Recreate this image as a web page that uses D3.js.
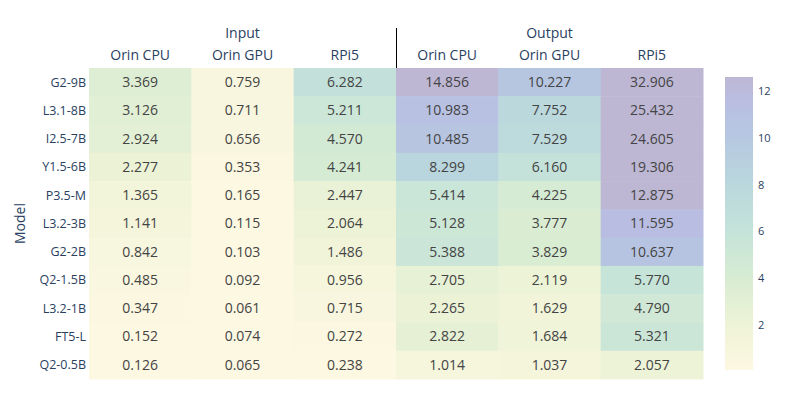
<!DOCTYPE html>
<html>
<head>
<meta charset="utf-8">
<script src="https://cdn.jsdelivr.net/npm/d3@7"></script>
<style>
  body { margin: 0; background: #fff; }
  text { font-family: "Open Sans", sans-serif; }
</style>
</head>
<body>
<div id="chart"></div>
<script>
// data
var models = ["G2-9B", "L3.1-8B", "I2.5-7B", "Y1.5-6B", "P3.5-M", "L3.2-3B",
              "G2-2B", "Q2-1.5B", "L3.2-1B", "FT5-L", "Q2-0.5B"];
var devices = ["Orin CPU", "Orin GPU", "RPi5", "Orin CPU", "Orin GPU", "RPi5"];
var groups = ["Input", "Output"];
var inputVals = [
  [3.369, 0.759, 6.282],
  [3.126, 0.711, 5.211],
  [2.924, 0.656, 4.570],
  [2.277, 0.353, 4.241],
  [1.365, 0.165, 2.447],
  [1.141, 0.115, 2.064],
  [0.842, 0.103, 1.486],
  [0.485, 0.092, 0.956],
  [0.347, 0.061, 0.715],
  [0.152, 0.074, 0.272],
  [0.126, 0.065, 0.238]
];
var outputVals = [
  [14.856, 10.227, 32.906],
  [10.983, 7.752, 25.432],
  [10.485, 7.529, 24.605],
  [8.299, 6.160, 19.306],
  [5.414, 4.225, 12.875],
  [5.128, 3.777, 11.595],
  [5.388, 3.829, 10.637],
  [2.705, 2.119, 5.770],
  [2.265, 1.629, 4.790],
  [2.822, 1.684, 5.321],
  [1.014, 1.037, 2.057]
];
var colorTicks = [2, 4, 6, 8, 10, 12];

var W = 797, H = 399;
var margin = {top: 68, left: 89, right: 94, bottom: 20};
var gridW = 703 - margin.left, gridH = 379 - margin.top;

var svg = d3.select("#chart").append("svg")
    .attr("width", W).attr("height", H);

// flatten cells
var cells = [];
models.forEach(function(m, i) {
  inputVals[i].concat(outputVals[i]).forEach(function(v, j) {
    cells.push({row: m, col: j, v: v});
  });
});

var x = d3.scaleBand().domain(d3.range(devices.length)).range([0, gridW]);
var y = d3.scaleBand().domain(models).range([0, gridH]);

var zmin = 0.061, zmax = 12.6;
var stopVals = [zmin, 2, 4, 6, 8, 10, 11.5, zmax];
var stops = ["#fdf8e2", "#eef3d7", "#d7ecd2", "#c5e3da", "#bad7dd", "#b6c8e1", "#b9bee2", "#bdb7d4"];
var color = d3.scaleLinear()
    .domain(stopVals)
    .range(stops)
    .interpolate(d3.interpolateRgb)
    .clamp(true);

var g = svg.append("g")
    .attr("transform", "translate(" + margin.left + "," + margin.top + ")");

g.selectAll("rect.cell")
    .data(cells)
    .enter().append("rect")
    .attr("class", "cell")
    .attr("x", function(d) { return x(d.col); })
    .attr("y", function(d) { return y(d.row); })
    .attr("width", x.bandwidth() + 0.5)
    .attr("height", y.bandwidth() + 0.5)
    .attr("fill", function(d) { return color(d.v); });

g.selectAll("text.val")
    .data(cells)
    .enter().append("text")
    .attr("class", "val")
    .attr("x", function(d) { return x(d.col) + x.bandwidth() / 2; })
    .attr("y", function(d) { return y(d.row) + y.bandwidth() / 2; })
    .attr("text-anchor", "middle")
    .attr("dy", "0.35em")
    .style("font-size", "14px")
    .style("fill", "#444")
    .text(function(d) { return d.v.toFixed(3); });

// row labels
g.selectAll("text.row")
    .data(models)
    .enter().append("text")
    .attr("class", "row")
    .attr("x", -3)
    .attr("y", function(d) { return y(d) + y.bandwidth() / 2; })
    .attr("dy", "0.35em")
    .attr("text-anchor", "end")
    .style("font-size", "12.5px")
    .style("fill", "#2a3f5f")
    .text(function(d) { return d; });

// column labels
g.selectAll("text.col")
    .data(devices)
    .enter().append("text")
    .attr("class", "col")
    .attr("x", function(d, i) { return x(i) + x.bandwidth() / 2; })
    .attr("y", -8)
    .attr("text-anchor", "middle")
    .style("font-size", "14px")
    .style("fill", "#2a3f5f")
    .text(function(d) { return d; });

// group labels
g.selectAll("text.grp")
    .data(groups)
    .enter().append("text")
    .attr("class", "grp")
    .attr("x", function(d, i) { return x(i * 3) + x.bandwidth() * 1.5; })
    .attr("y", -30)
    .attr("text-anchor", "middle")
    .style("font-size", "14px")
    .style("fill", "#2a3f5f")
    .text(function(d) { return d; });

// divider
g.append("line")
    .attr("x1", x(3) + 0.5).attr("x2", x(3) + 0.5)
    .attr("y1", -40).attr("y2", 0)
    .attr("stroke", "#000").attr("stroke-width", 1);

// y title
svg.append("text")
    .attr("transform", "translate(25," + (margin.top + gridH / 2) + ") rotate(-90)")
    .attr("text-anchor", "middle")
    .style("font-size", "14px")
    .style("fill", "#2a3f5f")
    .text("Model");

// colorbar
var cbX = 725, cbW = 28, cbTop = 77, cbBot = 370;
var cy = d3.scaleLinear().domain([zmin, zmax]).range([cbBot, cbTop]);
var defs = svg.append("defs");
var grad = defs.append("linearGradient")
    .attr("id", "cbgrad")
    .attr("x1", 0).attr("y1", 1).attr("x2", 0).attr("y2", 0);
stops.forEach(function(s, i) {
  grad.append("stop")
      .attr("offset", ((stopVals[i] - zmin) / (zmax - zmin) * 100) + "%")
      .attr("stop-color", s);
});
svg.append("rect")
    .attr("x", cbX).attr("y", cbTop)
    .attr("width", cbW).attr("height", cbBot - cbTop)
    .attr("fill", "url(#cbgrad)");

var cAxis = svg.append("g")
    .attr("transform", "translate(" + (cbX + cbW) + ",0)")
    .call(d3.axisRight(cy).tickValues(colorTicks).tickSize(0).tickPadding(5));
cAxis.select(".domain").remove();
cAxis.selectAll("text")
    .style("font-size", "11px")
    .style("font-family", "'Open Sans', sans-serif")
    .style("fill", "#2a3f5f");
</script>
</body>
</html>
